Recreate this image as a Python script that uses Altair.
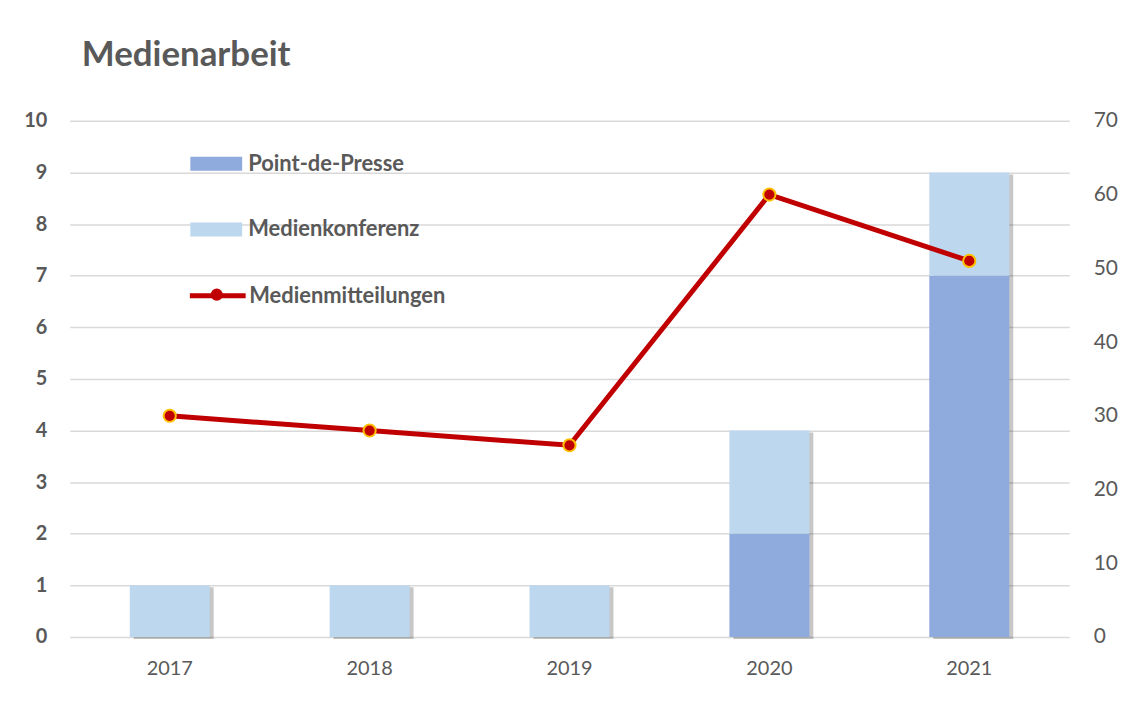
import altair as alt
import pandas as pd

years = ["2017", "2018", "2019", "2020", "2021"]
point_de_presse = [0, 0, 0, 2, 7]
medienkonferenz = [1, 1, 1, 2, 2]
medienmitteilungen = [30, 28, 26, 60, 51]
left_ticks = list(range(0, 11))
right_ticks = list(range(0, 71, 10))

FONT = "Lato"
GREY = "#595959"

rows = []
for yr, p, m in zip(years, point_de_presse, medienkonferenz):
    rows.append({"Jahr": yr, "Typ": "Point-de-Presse", "Wert": p, "Ordnung": 0})
    rows.append({"Jahr": yr, "Typ": "Medienkonferenz", "Wert": m, "Ordnung": 1})
bars_df = pd.DataFrame(rows)
total_df = pd.DataFrame({"Jahr": years,
                         "Total": [p + m for p, m in zip(point_de_presse, medienkonferenz)]})
line_df = pd.DataFrame({"Jahr": years, "Anzahl": medienmitteilungen,
                        "Serie": ["Medienmitteilungen"] * len(years),
                        "Serie2": ["Medienmitteilungen "] * len(years)})

x_enc = alt.X("Jahr:N", sort=years,
              scale=alt.Scale(paddingInner=0.6, paddingOuter=0.3),
              axis=alt.Axis(title=None, labelAngle=0, domain=False, ticks=False,
                            labelPadding=22, labelFontSize=20, labelColor=GREY,
                            labelFont=FONT))

left_scale = alt.Scale(domain=[0, 10], nice=False)
left_axis = alt.Axis(title=None, values=left_ticks, grid=True, gridColor="#D9D9D9",
                     gridWidth=1.5, domain=False, ticks=False, labelFontWeight="bold",
                     labelFontSize=20, labelPadding=23, labelColor=GREY, labelFont=FONT)

shadow = alt.Chart(total_df).mark_bar(color="#000000", opacity=0.22, xOffset=4, yOffset=2).encode(
    x=x_enc,
    y=alt.Y("Total:Q", scale=left_scale, axis=left_axis),
)

bars = alt.Chart(bars_df).mark_bar().encode(
    x=x_enc,
    y=alt.Y("Wert:Q", stack="zero", scale=left_scale, axis=left_axis),
    color=alt.Color("Typ:N",
                    scale=alt.Scale(domain=["Point-de-Presse", "Medienkonferenz"],
                                    range=["#8FAADC", "#BDD7EE"]),
                    legend=alt.Legend(orient="none", legendX=121, legendY=17, title=None,
                                      symbolType="M-1,-0.27H1V0.27H-1Z", symbolSize=2704,
                                      symbolStrokeWidth=0, symbolOpacity=1,
                                      labelFontSize=22, labelFont=FONT, labelFontWeight="bold",
                                      labelColor=GREY, labelOffset=6, rowPadding=29,
                                      labelLimit=0, padding=0, direction="vertical")),
    order=alt.Order("Ordnung:Q", sort="ascending"),
)

right_scale = alt.Scale(domain=[0, 70], nice=False)
right_axis = alt.Axis(title=None, orient="right", values=right_ticks, grid=False,
                      domain=False, ticks=False, labelFontSize=21, labelPadding=24,
                      labelColor=GREY, labelFont=FONT)

line = alt.Chart(line_df).mark_line(strokeWidth=5).encode(
    x=x_enc,
    y=alt.Y("Anzahl:Q", scale=right_scale, axis=right_axis),
    stroke=alt.Stroke("Serie:N",
                      scale=alt.Scale(domain=["Medienmitteilungen"], range=["#C00000"]),
                      legend=alt.Legend(orient="none", legendX=118, legendY=145, title=None,
                                        symbolType="stroke", symbolSize=3136,
                                        symbolStrokeWidth=5, labelFontSize=22,
                                        labelFont=FONT, labelFontWeight="bold",
                                        labelColor=GREY, labelOffset=1, labelLimit=0,
                                        padding=0)),
)

points = alt.Chart(line_df).mark_point(shape="circle", filled=True, size=150,
                                       fill="#C00000", stroke="#FFC000",
                                       strokeWidth=2, opacity=1).encode(
    x=x_enc,
    y=alt.Y("Anzahl:Q", scale=right_scale, axis=right_axis),
    shape=alt.Shape("Serie2:N",
                    scale=alt.Scale(domain=["Medienmitteilungen "], range=["circle"]),
                    legend=alt.Legend(orient="none", legendX=140, legendY=167, title=None,
                                      labelExpr="''", symbolSize=150,
                                      symbolFillColor="#C00000", symbolStrokeColor="#FFC000",
                                      symbolStrokeWidth=2, symbolOpacity=1,
                                      labelFontSize=1, padding=0)),
)

left = alt.layer(shadow, bars)
right = alt.layer(line, points)

chart = alt.layer(left, right).resolve_scale(y="independent").properties(
    width=1003, height=518,
    title=alt.TitleParams("Medienarbeit", anchor="start", frame="group", fontSize=35,
                          font=FONT, fontWeight="bold", color=GREY, dx=12, offset=37),
    autosize=alt.AutoSizeParams(type="none"),
    padding={"left": 62, "top": 112, "right": 60, "bottom": 60},
    background="white",
).configure_view(stroke=None)

chart.save("out.html", embed_options={"renderer": "svg", "actions": False})
